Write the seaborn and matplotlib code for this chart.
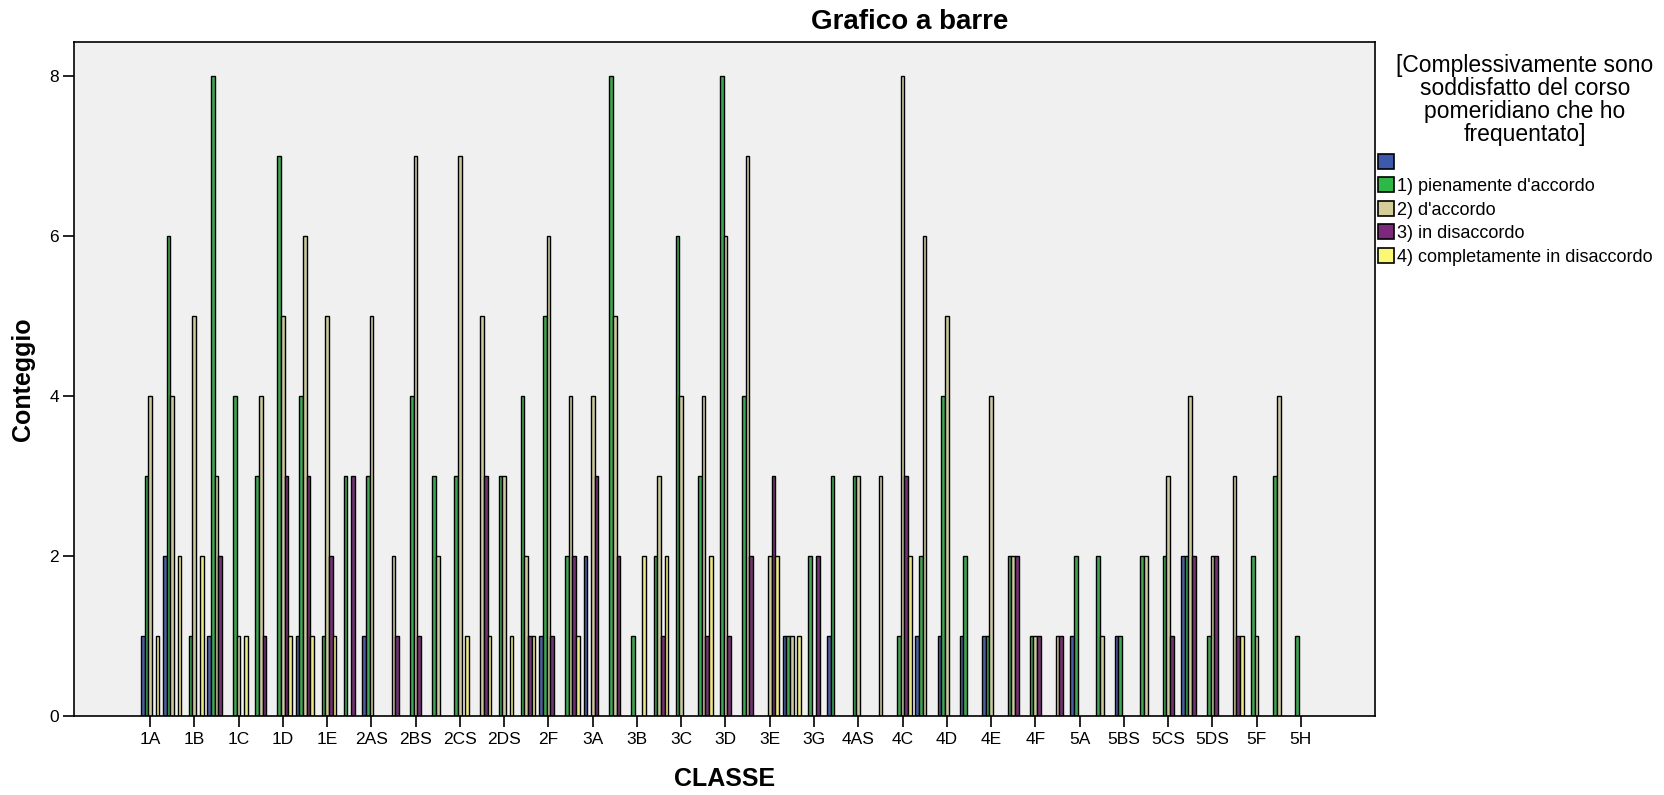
import pandas as pd
import matplotlib
matplotlib.use("Agg")
import matplotlib.pyplot as plt
from matplotlib.patches import Patch
import seaborn as sns

classi = ["1A", "1AS", "1B", "1BS", "1C", "1CS", "1D", "1DS", "1E", "2A",
          "2AS", "2B", "2BS", "2C", "2CS", "2D", "2DS", "2E", "2F", "2G",
          "3A", "3AS", "3B", "3BS", "3C", "3CS", "3D", "3DS", "3E", "3F",
          "3G", "4A", "4AS", "4B", "4C", "4CS", "4D", "4DS", "4E", "4ES",
          "4F", "4G", "5A", "5B", "5BS", "5C", "5CS", "5D", "5DS", "5E",
          "5F", "5G", "5H"]

risposte = [" ", "1) pienamente d'accordo", "2) d'accordo",
            "3) in disaccordo", "4) completamente in disaccordo"]

vuoto = [1, 2, 0, 1, 0, 0, 0, 1, 0, 0, 1, 0, 0, 0, 0, 0, 0, 0, 1, 0,
         2, 0, 0, 0, 0, 0, 0, 0, 0, 1, 0, 1, 0, 0, 0, 1, 1, 1, 1, 0,
         0, 0, 1, 0, 1, 0, 0, 2, 0, 0, 0, 0, 0]
pienamente = [3, 6, 1, 8, 4, 3, 7, 4, 1, 3, 3, 0, 4, 3, 3, 0, 3, 4, 5, 2,
              0, 8, 1, 2, 6, 3, 8, 4, 0, 1, 2, 3, 3, 0, 1, 2, 4, 2, 1, 2,
              1, 0, 2, 2, 1, 2, 2, 2, 1, 0, 2, 3, 1]
accordo = [4, 4, 5, 3, 1, 4, 5, 6, 5, 0, 5, 2, 7, 2, 7, 5, 3, 2, 6, 4,
           4, 5, 0, 3, 4, 4, 6, 7, 2, 1, 0, 0, 3, 3, 8, 6, 5, 0, 4, 2,
           1, 1, 0, 1, 0, 2, 3, 4, 2, 3, 1, 4, 0]
disaccordo = [0, 0, 0, 2, 0, 1, 3, 3, 2, 3, 0, 1, 1, 0, 0, 3, 0, 1, 1, 2,
              3, 2, 0, 1, 0, 1, 1, 2, 3, 0, 2, 0, 0, 0, 3, 0, 0, 0, 0, 2,
              1, 1, 0, 0, 0, 0, 1, 2, 2, 1, 0, 0, 0]
completamente = [1, 2, 2, 0, 1, 0, 1, 1, 1, 0, 0, 0, 0, 0, 1, 1, 1, 1, 0, 1,
                 0, 0, 2, 2, 0, 2, 0, 0, 2, 1, 0, 0, 0, 0, 2, 0, 0, 0, 0, 0,
                 0, 0, 0, 0, 0, 0, 0, 0, 0, 1, 0, 0, 0]

colori = ["#3E58AC", "#2EB848", "#D3CE97", "#7C287D", "#FBF873"]

serie = [vuoto, pienamente, accordo, disaccordo, completamente]
righe = []
for risp, valori in zip(risposte, serie):
    for cl, v in zip(classi, valori):
        if v > 0:
            righe.append({"CLASSE": cl, "risposta": risp, "Conteggio": v})
df = pd.DataFrame(righe)

sns.set_style("white")
plt.rcParams["font.family"] = ["Liberation Sans", "DejaVu Sans"]
plt.rcParams["text.color"] = "black"
plt.rcParams["axes.labelcolor"] = "black"

fig = plt.figure(figsize=(16.64, 7.95), dpi=100)
ax = fig.add_axes([0.0447, 0.099, 0.7819, 0.8477])
ax.set_facecolor("#F0F0F0")

sns.barplot(data=df, x="CLASSE", y="Conteggio", hue="risposta",
            order=classi, hue_order=risposte,
            palette=dict(zip(risposte, colori)), width=0.83,
            edgecolor="black", linewidth=1, errorbar=None,
            legend=False, ax=ax)

ax.set_xlim(-3.42, 55.37)
ax.set_ylim(0, 8.42)
ax.set_yticks([0, 2, 4, 6, 8])
ax.set_xticks(range(0, len(classi), 2))
ax.set_xticklabels(classi[::2])
ax.tick_params(axis="both", direction="out", length=8, width=1.2,
               labelsize=12.5, color="black", labelcolor="black",
               bottom=True, left=True, pad=3)
for s in ax.spines.values():
    s.set_color("black")
    s.set_linewidth(1.2)

ax.set_xlabel("CLASSE", fontsize=18, fontweight="bold")
ax.xaxis.set_label_coords(0.5, -63 / 674)
ax.xaxis.label.set_va("center")
ax.set_ylabel("Conteggio", fontsize=18, fontweight="bold")
ax.yaxis.set_label_coords(-51 / 1301, 0.5)
ax.yaxis.label.set_va("center")

fig.text(910 / 1664, 1 - 22 / 795, "Grafico a barre", fontsize=20,
         fontweight="bold", ha="center", va="center")

fig.text(1525 / 1664, 1 - 100 / 795,
         "[Complessivamente sono\nsoddisfatto del corso\npomeridiano che ho\nfrequentato]",
         fontsize=16.5, ha="center", va="center", multialignment="center",
         linespacing=1.0)

handles = [Patch(facecolor=c, edgecolor="black", linewidth=1.2) for c in colori]
fig.legend(handles, risposte, loc="upper left",
           bbox_to_anchor=(1378 / 1664, 1 - 154 / 795), frameon=False,
           fontsize=13, handlelength=0.9, handleheight=0.9,
           handletextpad=0.17, labelspacing=0.32, borderaxespad=0,
           borderpad=0)

fig.savefig("out.png", dpi=100, facecolor="white")
